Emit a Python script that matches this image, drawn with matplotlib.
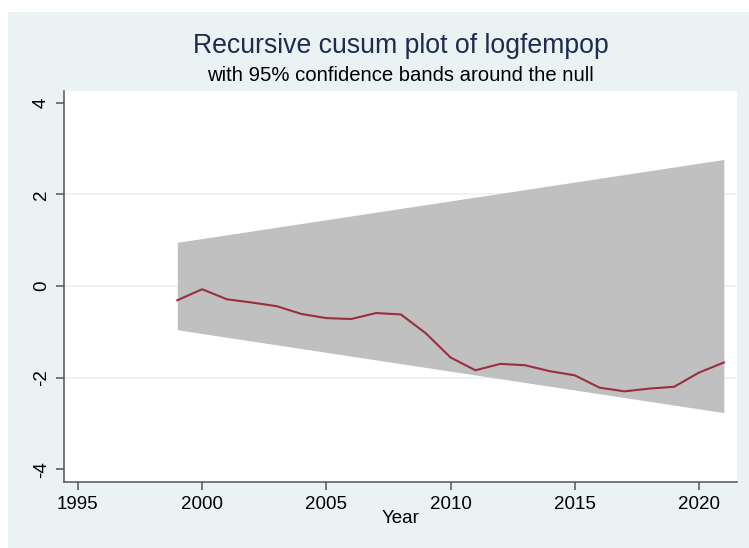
import numpy as np
import matplotlib.pyplot as plt
from matplotlib.patches import Rectangle

# recursive cusum of logfempop, one value per year
years = [1999, 2000, 2001, 2002, 2003, 2004, 2005, 2006, 2007, 2008, 2009,
         2010, 2011, 2012, 2013, 2014, 2015, 2016, 2017, 2018, 2019, 2020, 2021]
cusum = [-0.31, -0.07, -0.29, -0.36, -0.44, -0.61, -0.70, -0.72, -0.59, -0.62, -1.03,
         -1.56, -1.84, -1.70, -1.73, -1.86, -1.95, -2.22, -2.30, -2.24, -2.20, -1.89, -1.67]

# 95% band around the null (straight lines between the end years)
band_years = [1999, 2021]
band_upper = [0.955, 2.765]
band_lower = [-0.955, -2.765]

xticks = [1995, 2000, 2005, 2010, 2015, 2020]
yticks = [-4, -2, 0, 2, 4]

bg = "#EAF2F3"
plt.rcParams["font.family"] = ["Liberation Sans", "DejaVu Sans"]

fig = plt.figure(figsize=(7.49, 5.48), dpi=100)
fig.patch.set_facecolor("white")
fig.patches.append(Rectangle((8 / 749, -0.01), 1, 1.01 - 12 / 548, transform=fig.transFigure,
                             facecolor=bg, edgecolor="none", zorder=-10))

ax = fig.add_axes([64 / 749, 66 / 548, 673 / 749, 391 / 548])
ax.set_facecolor("white")

for y in [-2, 0, 2]:
    ax.axhline(y, color=bg, lw=1.2, zorder=0)

ax.fill_between(band_years, band_lower, band_upper, color="#C0C0C0", lw=0, zorder=1)
ax.plot(years, cusum, color="#9A2F3D", lw=1.5, zorder=2)

ax.set_xlim(1994.44, 2021.53)
ax.set_ylim(-4.28, 4.26)
ax.set_xticks(xticks)
ax.set_yticks(yticks)
ax.set_yticklabels([str(t) for t in yticks], rotation=90, va="center")

for s in ["top", "right"]:
    ax.spines[s].set_visible(False)
for s in ["left", "bottom"]:
    ax.spines[s].set_color("#555555")
    ax.spines[s].set_linewidth(1.1)
ax.tick_params(axis="both", colors="#555555", labelcolor="black", labelsize=13.5,
               length=6, width=1.1, pad=4)

ax.set_xlabel("Year", fontsize=13.5, labelpad=-2)

fig.text(400.5 / 749, 1 - 46 / 548, "Recursive cusum plot of logfempop",
         ha="center", va="center", fontsize=19.2, color="#1E2D4F")
fig.text(400.5 / 749, 1 - 76 / 548, "with 95% confidence bands around the null",
         ha="center", va="center", fontsize=14.6, color="black")

fig.savefig("out.png", dpi=100, facecolor=fig.get_facecolor())
